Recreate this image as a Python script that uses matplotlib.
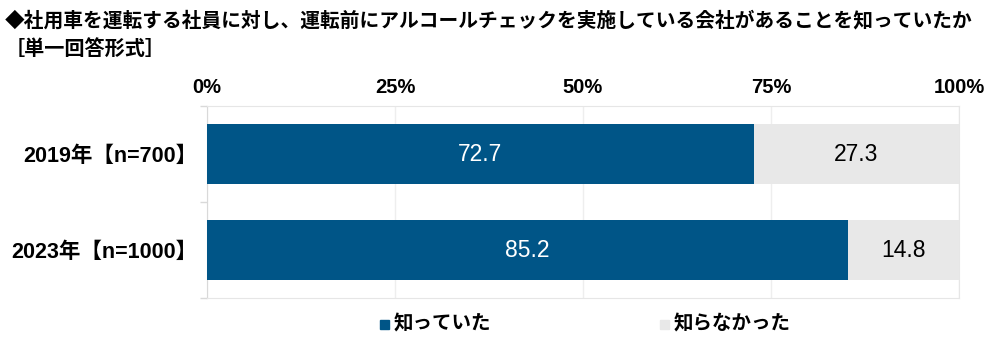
import matplotlib
matplotlib.use("Agg")
import matplotlib.pyplot as plt
from matplotlib.patches import Rectangle

plt.rcParams['font.family'] = ['Liberation Sans', 'Noto Sans CJK JP', 'DejaVu Sans']

categories = ["2019年【n=700】", "2023年【n=1000】"]
knew = [72.7, 85.2]
did_not_know = [27.3, 14.8]
series_names = ["知っていた", "知らなかった"]
xtick_values = [0, 25, 50, 75, 100]
xtick_labels = ["0%", "25%", "50%", "75%", "100%"]
title_line1 = "◆社用車を運転する社員に対し、運転前にアルコールチェックを実施している会社があることを知っていたか"
title_line2 = "［単一回答形式］"

BLUE = "#005587"
GRAY = "#E8E8E8"
EDGE = "#D9D9D9"
JP = ['Noto Sans CJK JP', 'DejaVu Sans']
LAT = ['Liberation Sans', 'Noto Sans CJK JP', 'DejaVu Sans']

fig = plt.figure(figsize=(10, 3.43), dpi=100)
ax = fig.add_axes([0.207, 0.131, 0.752, 0.560])

y = list(range(len(categories)))
h = 0.625
ax.barh(y, knew, height=h, color=BLUE, zorder=3)
ax.barh(y, did_not_know, left=knew, height=h, color=GRAY, zorder=3)

for yi, a, b in zip(y, knew, did_not_know):
    ax.text(a / 2, yi, f"{a:.1f}", ha="center", va="center", color="white",
            fontsize=16.5, family=LAT, zorder=4)
    ax.text(a + b / 2, yi, f"{b:.1f}", ha="center", va="center", color="black",
            fontsize=16.5, family=LAT, zorder=4)

ax.set_xlim(0, 100)
ax.set_ylim(len(categories) - 0.5, -0.5)
ax.xaxis.tick_top()
ax.set_xticks(xtick_values)
ax.set_xticklabels(xtick_labels, fontsize=14.5, fontweight="bold", family=LAT)
ax.tick_params(axis="x", length=0, pad=6.5)
ax.set_yticks(y)
ax.set_yticklabels(categories, fontsize=15.5, fontweight="bold", family=LAT)
ax.tick_params(axis="y", length=0, pad=7)
ax.set_yticks([i - 0.5 for i in range(len(categories) + 1)], minor=True)
ax.tick_params(axis="y", which="minor", length=5, color=EDGE, width=1)
ax.grid(axis="x", color="#EEEEEE", linewidth=1, zorder=0)
for s in ax.spines.values():
    s.set_color("#E6E6E6")
ax.spines["left"].set_color(EDGE)

fig.text(0.005, 0.94, title_line1, fontsize=14.2, fontweight="bold", family=JP,
         ha="left", va="center")
fig.text(0.005, 0.86, title_line2, fontsize=14.5, fontweight="bold", family=JP,
         ha="left", va="center")

# legend
for color, name, xpos in zip([BLUE, GRAY], series_names, [0.380, 0.660]):
    fig.patches.append(Rectangle((xpos, 0.04), 0.009, 0.026, transform=fig.transFigure,
                                 color=color, figure=fig))
    fig.text(xpos + 0.014, 0.055, name, fontsize=14, fontweight="bold", family=JP,
             ha="left", va="center")

fig.savefig("out.png", dpi=100)
